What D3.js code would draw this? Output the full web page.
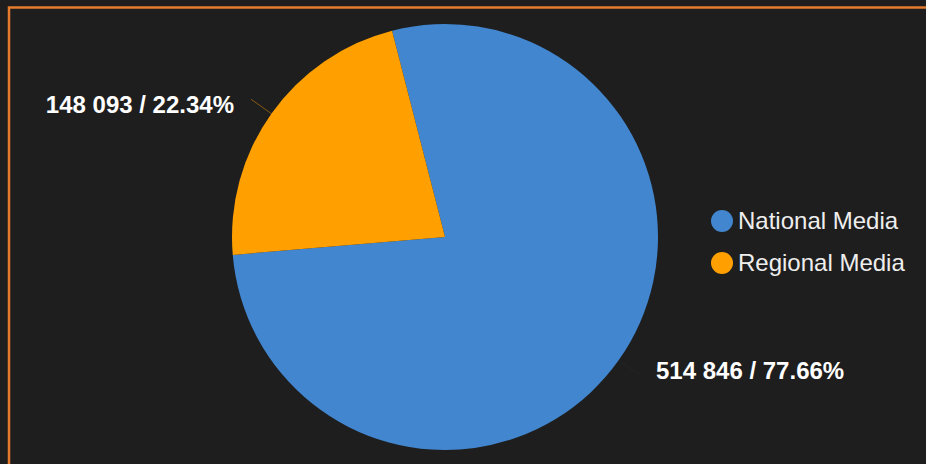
<!DOCTYPE html>
<html>
<head>
<meta charset="utf-8">
<script src="https://cdn.jsdelivr.net/npm/d3@7"></script>
<style>
  html, body { margin: 0; padding: 0; background: #1e1e1e; }
  svg { display: block; }
</style>
</head>
<body>
<div class="chart"></div>
<script>
'use strict';
// data
var categories = ['National Media', 'Regional Media'];
var values = [514846, 148093];
var colors = ['#4286cf', '#ffa000'];

var width = 926, height = 464;
var cx = 445, cy = 237, radius = 213;
var startOffset = -14.4 * Math.PI / 180;

var svg = d3.select('.chart').append('svg')
  .attr('width', width)
  .attr('height', height);

svg.append('rect')
  .attr('width', width)
  .attr('height', height)
  .attr('fill', '#1e1e1e');

// orange frame, top + left edges visible
svg.append('path')
  .attr('d', 'M9,' + height + 'V7.5H' + width)
  .attr('fill', 'none')
  .attr('stroke', '#e47b2d')
  .attr('stroke-width', 2.5);

var total = d3.sum(values);
var data = categories.map(function(c, i) {
  return {name: c, value: values[i], color: colors[i]};
});

var pie = d3.pie()
  .sort(null)
  .value(function(d) { return d.value; })
  .startAngle(startOffset)
  .endAngle(startOffset + 2 * Math.PI);

var arcs = pie(data);
var arc = d3.arc().innerRadius(0).outerRadius(radius);

var g = svg.append('g')
  .attr('transform', 'translate(' + cx + ',' + cy + ')');

g.selectAll('.slice')
  .data(arcs)
  .enter().append('path')
  .attr('class', 'slice')
  .attr('d', arc)
  .attr('fill', function(d) { return d.data.color; });

// labels
var fmt = function(v) {
  return d3.format(',')(v).replace(/,/g, ' ');
};
var pct = function(v) { return (v / total * 100).toFixed(2) + '%'; };

var lineIn = d3.arc().innerRadius(radius - 3).outerRadius(radius - 3);
var lineOut = d3.arc().innerRadius(radius + 25).outerRadius(radius + 25);

g.selectAll('.leader')
  .data(arcs)
  .enter().append('line')
  .attr('class', 'leader')
  .attr('x1', function(d) { return lineIn.centroid(d)[0]; })
  .attr('y1', function(d) { return lineIn.centroid(d)[1]; })
  .attr('x2', function(d) { return lineOut.centroid(d)[0]; })
  .attr('y2', function(d) { return lineOut.centroid(d)[1]; })
  .attr('stroke', function(d) { return d.data.color; })
  .attr('stroke-opacity', function(d, i) { return i === 0 ? 0.06 : 0.45; })
  .attr('stroke-width', 1);

g.selectAll('.lbl')
  .data(arcs)
  .enter().append('text')
  .attr('class', 'lbl')
  .attr('x', function(d) {
    var p = lineOut.centroid(d);
    return p[0] < 0 ? p[0] - 17 : p[0] + 17;
  })
  .attr('y', function(d) {
    var p = lineOut.centroid(d);
    return p[0] < 0 ? p[1] + 5 : p[1] - 4;
  })
  .attr('dy', '0.35em')
  .attr('text-anchor', function(d) { return lineOut.centroid(d)[0] < 0 ? 'end' : 'start'; })
  .attr('fill', '#ffffff')
  .attr('font-family', '"Liberation Sans", Arial, sans-serif')
  .attr('font-weight', 'bold')
  .attr('font-size', '24px')
  .text(function(d) { return fmt(d.data.value) + ' / ' + pct(d.data.value); });

// legend
var legend = svg.selectAll('.legend')
  .data(data)
  .enter().append('g')
  .attr('class', 'legend')
  .attr('transform', function(d, i) { return 'translate(722,' + (221 + i * 42) + ')'; });

legend.append('circle')
  .attr('r', 11)
  .attr('fill', function(d) { return d.color; });

legend.append('text')
  .attr('x', 16)
  .attr('dy', '0.35em')
  .attr('fill', '#eeeeee')
  .attr('font-family', '"Liberation Sans", Arial, sans-serif')
  .attr('font-size', '24px')
  .text(function(d) { return d.name; });
</script>
</body>
</html>
